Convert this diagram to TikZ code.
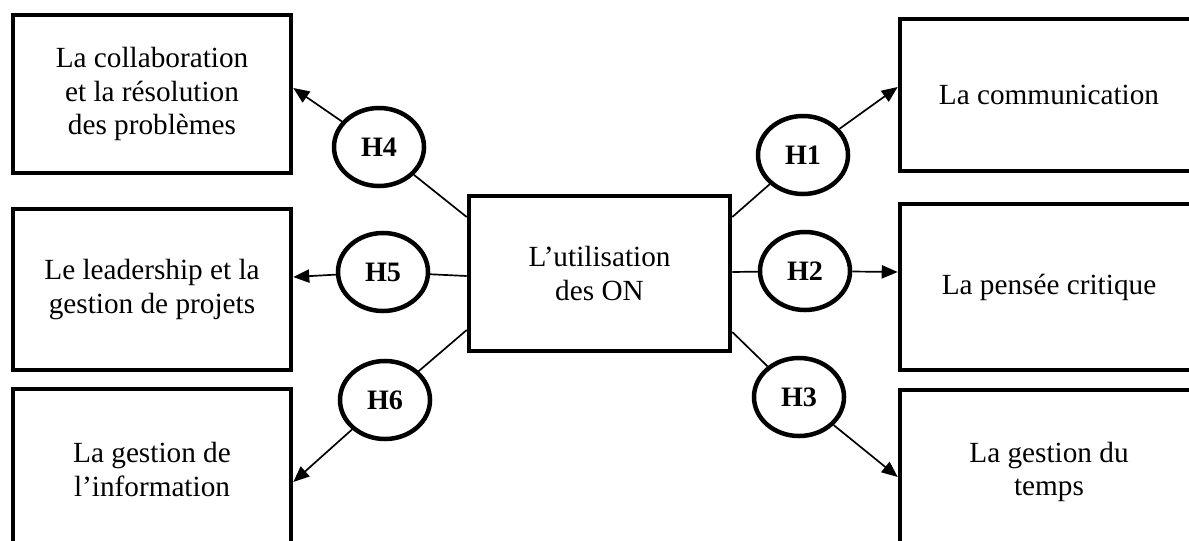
\documentclass[tikz,border=0pt]{standalone}
\usepackage{fontspec}
\setmainfont{Liberation Serif}
\usetikzlibrary{shapes.geometric,arrows.meta,calc}

\tikzset{
  textbox/.style={draw, line width=3.2pt, rectangle, inner sep=0pt, align=center,
    font=\fontsize{20.8}{23.5}\selectfont},
  hyp/.style={draw, line width=3.2pt, ellipse, inner sep=0pt,
    minimum width=2.25cm, minimum height=1.95cm,
    font=\fontsize{20}{22}\selectfont\bfseries},
  link/.style={line width=1.2pt},
  effect/.style={line width=1.2pt, -{Triangle[length=0.4cm,width=0.33cm]}}
}

\begin{document}
\begin{tikzpicture}[x=0.025cm, y=-0.025cm]
  \useasboundingbox (0,0) rectangle (1189,540);
  \clip (0,0) rectangle (1189,540);

  % central construct
  \node[textbox, minimum width=6.525cm, minimum height=3.875cm] (C) at (599.5,273.5)
    {L’utilisation\\des ON};

  % outcome boxes, left column
  \node[textbox, minimum width=6.95cm, minimum height=3.95cm] (TL) at (152,94)
    {La collaboration\\et la résolution\\des problèmes};
  \node[textbox, minimum width=6.95cm, minimum height=4.025cm] (ML) at (152,289.5)
    {Le leadership et la\\gestion de projets};
  \node[textbox, minimum width=6.95cm, minimum height=4.025cm] (BL) at (152,469.5)
    {La gestion de\\l’information};

  % outcome boxes, right column
  \node[textbox, minimum width=7.45cm, minimum height=3.8cm] (TR) at (1049,95)
    {La communication};
  \node[textbox, minimum width=7.45cm, minimum height=4.15cm] (MR) at (1049,287)
    {La pensée critique};
  \node[textbox, minimum width=7.45cm, minimum height=4.1cm] (BR) at (1049,472)
    {La gestion du\\temps};

  % hypotheses
  \node[hyp] (H4) at (379,147) {H4};
  \node[hyp] (H1) at (803,155) {H1};
  \node[hyp] (H5) at (383,272) {H5};
  \node[hyp] (H2) at (805,271) {H2};
  \node[hyp] (H6) at (385,400) {H6};
  \node[hyp] (H3) at (799,397) {H3};

  % attachment points on the box borders
  \coordinate (c4) at ($(C.west)+(0,-56.5)$);
  \coordinate (c5) at ($(C.west)+(0,2.5)$);
  \coordinate (c6) at ($(C.west)+(0,56.5)$);
  \coordinate (c1) at ($(C.east)+(0,-56.5)$);
  \coordinate (c2) at ($(C.east)+(0,-1.5)$);
  \coordinate (c3) at ($(C.east)+(0,58.5)$);
  \coordinate (t4) at ($(TL.east)+(0,-6)$);
  \coordinate (t5) at ($(ML.east)+(0,-12.5)$);
  \coordinate (t6) at ($(BL.east)+(0,12.5)$);
  \coordinate (t1) at ($(TR.west)+(0,-8)$);
  \coordinate (t2) at ($(MR.west)+(0,-15)$);
  \coordinate (t3) at ($(BR.west)+(0,5)$);

  % links from the central box to each hypothesis
  \draw[link] (c4) -- (H4);
  \draw[link] (c5) -- (H5);
  \draw[link] (c6) -- (H6);
  \draw[link] (c1) -- (H1);
  \draw[link] (c2) -- (H2);
  \draw[link] (c3) -- (H3);

  % arrows from each hypothesis to its outcome
  \draw[effect] (H4) -- (t4);
  \draw[effect] (H5) -- (t5);
  \draw[effect] (H6) -- (t6);
  \draw[effect] (H1) -- (t1);
  \draw[effect] (H2) -- (t2);
  \draw[effect] (H3) -- (t3);
\end{tikzpicture}
\end{document}
